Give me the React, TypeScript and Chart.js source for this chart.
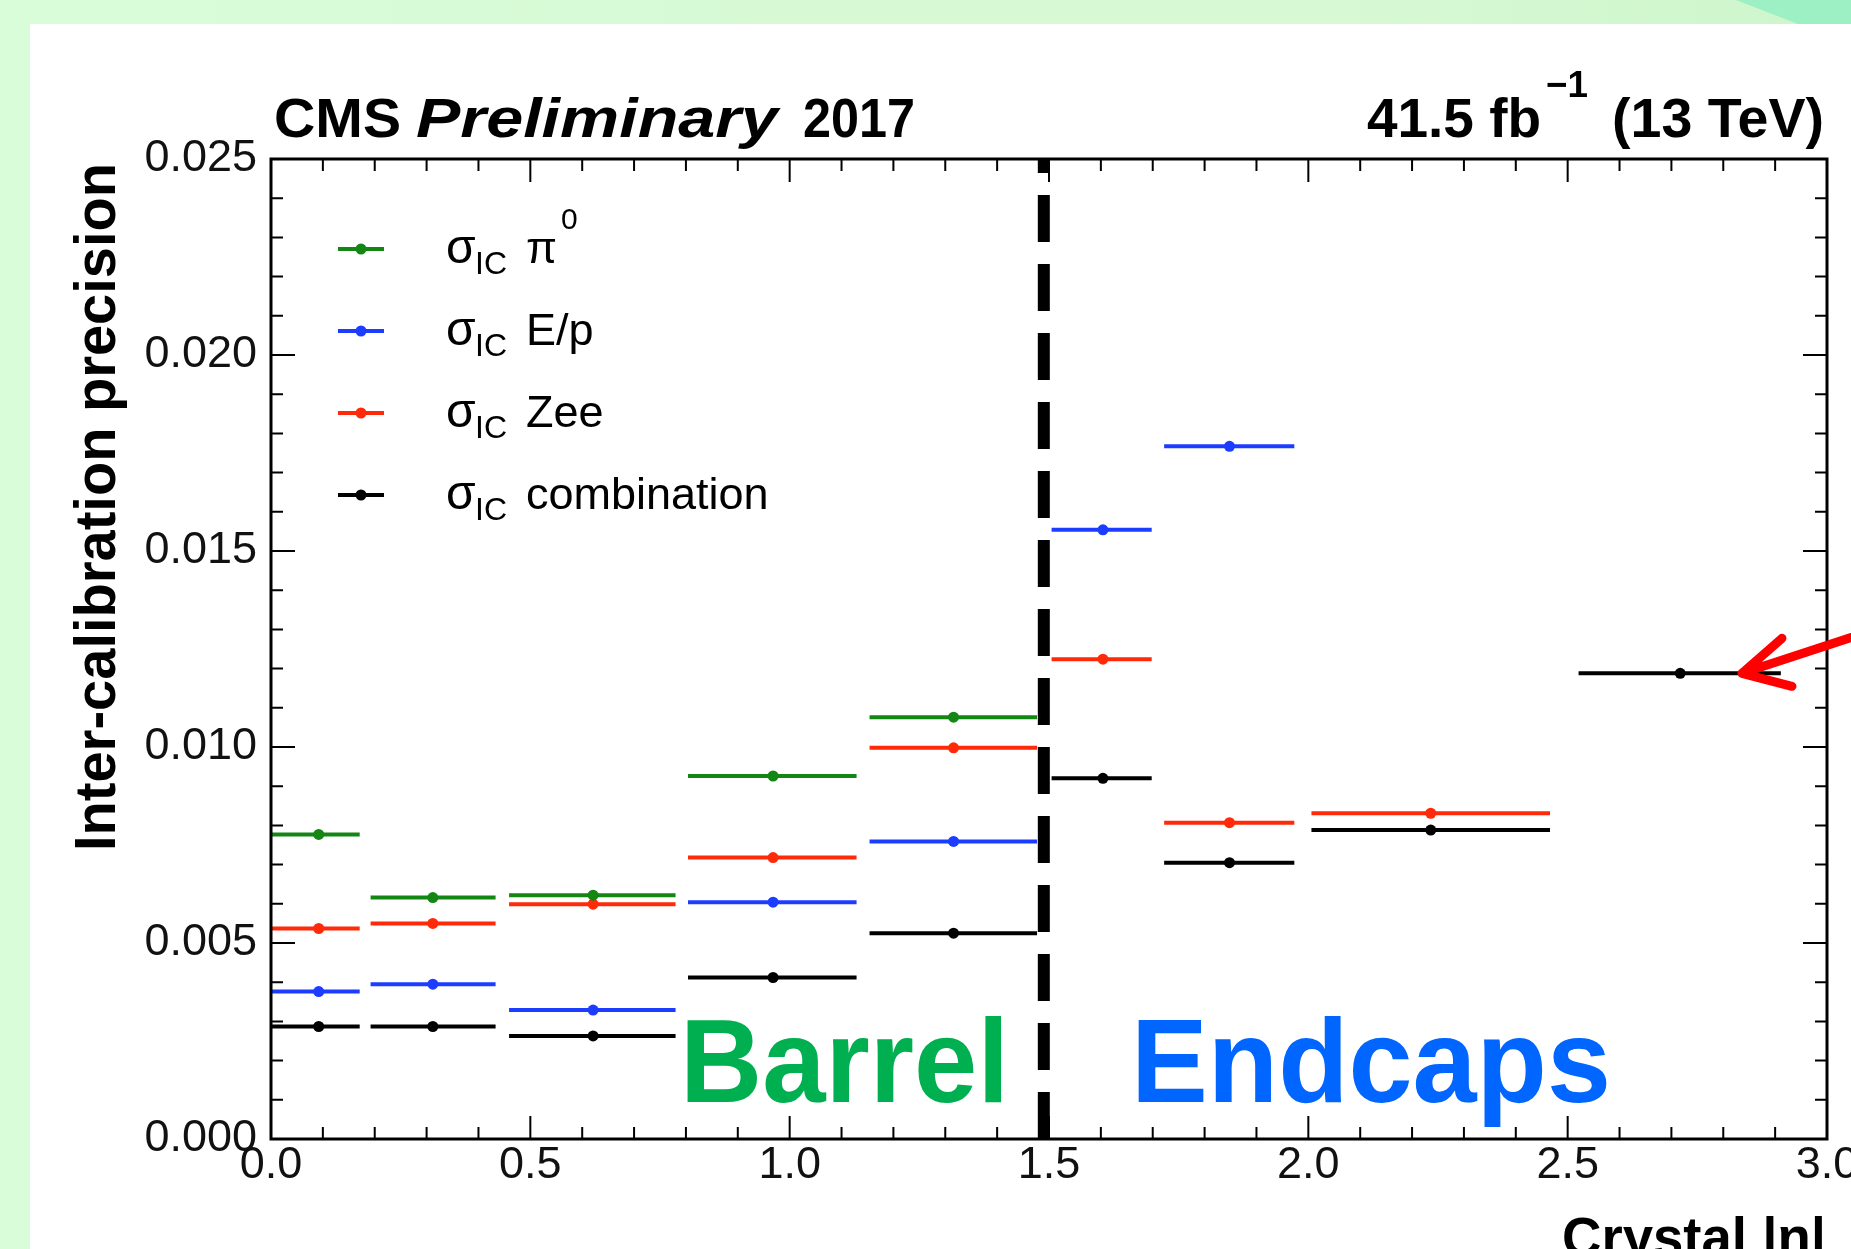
import React, { useEffect, useRef } from 'react';
import { Chart, registerables } from 'chart.js';

Chart.register(...registerables);

const CANVAS_W = 1851;
const CANVAS_H = 1249;

// Crystal |eta| bins (point position and horizontal extent)
const etaCenter = [0.092, 0.312, 0.621, 0.968, 1.316, 1.604, 1.848, 2.236, 2.717];
const etaLow = [0.0, 0.192, 0.459, 0.804, 1.154, 1.505, 1.722, 2.006, 2.521];
const etaHigh = [0.171, 0.433, 0.78, 1.129, 1.477, 1.698, 1.973, 2.466, 2.911];

// Inter-calibration precision per method
const sigmaPi0 = [0.00777, 0.00616, 0.00622, 0.00926, 0.01076, null, null, null, null];
const sigmaEp = [0.00376, 0.00395, 0.00329, 0.00604, 0.00759, 0.01554, 0.01767, null, null];
const sigmaZee = [0.00537, 0.0055, 0.00599, 0.00718, 0.00998, 0.01224, 0.00807, 0.00831, null];
const sigmaComb = [0.00287, 0.00287, 0.00263, 0.00412, 0.00525, 0.0092, 0.00705, 0.00788, 0.01188];

const seriesNames = ['π', 'E/p', 'Zee', 'combination'];
const seriesColors = ['#138613', '#1c3cff', '#ff2a0a', '#000000'];

const xTicks = [0, 0.5, 1.0, 1.5, 2.0, 2.5, 3.0];
const yTicks = [0, 0.005, 0.01, 0.015, 0.02, 0.025];
const xMinorStep = 0.1;
const yMinorStep = 0.001;
const barrelEndcapEta = 1.49;

const FONT = '"Liberation Sans", Arial, Helvetica, sans-serif';

function buildBars(values: (number | null)[]) {
  const pts: any[] = [];
  values.forEach((v, i) => {
    if (v == null) return;
    pts.push({ x: etaLow[i], y: v }, { x: etaHigh[i], y: v }, { x: etaHigh[i], y: null });
  });
  return pts;
}
function buildPoints(values: (number | null)[]) {
  const pts: any[] = [];
  values.forEach((v, i) => {
    if (v == null) return;
    pts.push({ x: etaCenter[i], y: v });
  });
  return pts;
}

function drawFit(ctx: CanvasRenderingContext2D, text: string, x: number, y: number, width: number, font: string, color: string) {
  ctx.save();
  ctx.font = font;
  ctx.textAlign = 'left';
  ctx.textBaseline = 'alphabetic';
  const w = ctx.measureText(text).width;
  ctx.translate(x, y);
  ctx.scale(width / w, 1);
  ctx.fillStyle = color;
  ctx.fillText(text, 0, 0);
  ctx.restore();
}

const decor = {
  id: 'cmsDecor',
  afterDraw(chart: any) {
    const { ctx, chartArea: a, scales } = chart;
    const xs = scales.x;
    const ys = scales.y;
    ctx.save();
    // inward ticks on all four sides
    ctx.strokeStyle = '#000';
    ctx.lineWidth = 2;
    ctx.beginPath();
    const xMin = xTicks[0], xMax = xTicks[xTicks.length - 1];
    const nx = Math.round((xMax - xMin) / xMinorStep);
    for (let i = 0; i <= nx; i++) {
      const px = xs.getPixelForValue(xMin + i * xMinorStep);
      const len = i % 5 === 0 ? 23 : 12;
      ctx.moveTo(px, a.bottom);
      ctx.lineTo(px, a.bottom - len);
      ctx.moveTo(px, a.top);
      ctx.lineTo(px, a.top + len);
    }
    const yMin = yTicks[0], yMax = yTicks[yTicks.length - 1];
    const ny = Math.round((yMax - yMin) / yMinorStep);
    for (let i = 0; i <= ny; i++) {
      const py = ys.getPixelForValue(yMin + i * yMinorStep);
      const len = i % 5 === 0 ? 24 : 12;
      ctx.moveTo(a.left, py);
      ctx.lineTo(a.left + len, py);
      ctx.moveTo(a.right, py);
      ctx.lineTo(a.right - len, py);
    }
    ctx.stroke();
    ctx.lineWidth = 3;
    ctx.strokeRect(a.left, a.top, a.right - a.left, a.bottom - a.top);

    // header
    drawFit(ctx, 'CMS', 274, 137, 127, `bold 55px ${FONT}`, '#000');
    drawFit(ctx, 'Preliminary', 416, 137, 362, `italic bold 55px ${FONT}`, '#000');
    drawFit(ctx, '2017', 803, 137, 112, `bold 55px ${FONT}`, '#000');
    drawFit(ctx, '41.5 fb', 1367, 137, 174, `bold 55px ${FONT}`, '#000');
    drawFit(ctx, '\u22121', 1546, 97, 42, `bold 37px ${FONT}`, '#000');
    drawFit(ctx, '(13 TeV)', 1612, 137, 212, `bold 55px ${FONT}`, '#000');

    // axis titles
    drawFit(ctx, 'Crystal |η|', 1562, 1256, 264, `bold 55px ${FONT}`, '#000');
    ctx.save();
    ctx.translate(115, 851);
    ctx.rotate(-Math.PI / 2);
    drawFit(ctx, 'Inter-calibration precision', 0, 0, 688, `bold 58px ${FONT}`, '#000');
    ctx.restore();

    // region labels
    drawFit(ctx, 'Barrel', 680, 1102, 329, `bold 119px ${FONT}`, '#00b050');
    drawFit(ctx, 'Endcaps', 1131, 1102, 480, `bold 119px ${FONT}`, '#0066ff');

    // legend
    const legendY = [249, 331, 413, 495];
    seriesNames.forEach((name, i) => {
      const y = legendY[i];
      const c = seriesColors[i];
      ctx.strokeStyle = c;
      ctx.lineWidth = 4;
      ctx.beginPath();
      ctx.moveTo(338, y);
      ctx.lineTo(384, y);
      ctx.stroke();
      ctx.fillStyle = c;
      ctx.beginPath();
      ctx.arc(361, y, 5.5, 0, Math.PI * 2);
      ctx.fill();
      ctx.fillStyle = '#000';
      ctx.textAlign = 'left';
      ctx.textBaseline = 'alphabetic';
      ctx.font = `48px ${FONT}`;
      ctx.fillText('σ', 446, y + 14);
      ctx.font = `32px ${FONT}`;
      ctx.fillText('IC', 475, y + 25);
      ctx.font = `45px ${FONT}`;
      ctx.fillText(name, 526, y + 14);
      if (i === 0) {
        const w = ctx.measureText(name).width;
        ctx.font = `30px ${FONT}`;
        ctx.fillText('0', 526 + w + 4, y - 20);
      }
    });

    // arrow pointing to the last combination bin
    const last = sigmaComb.length - 1;
    const tipX = xs.getPixelForValue(2.836);
    const tipY = ys.getPixelForValue(sigmaComb[last] as number);
    ctx.strokeStyle = '#ff0000';
    ctx.lineWidth = 9;
    ctx.lineCap = 'round';
    ctx.lineJoin = 'round';
    ctx.beginPath();
    ctx.moveTo(tipX + 140, tipY - 46);
    ctx.lineTo(tipX, tipY);
    ctx.moveTo(tipX + 40, tipY - 35);
    ctx.lineTo(tipX, tipY);
    ctx.lineTo(tipX + 50, tipY + 13);
    ctx.stroke();
    ctx.restore();
  },
};

export default function App() {
  const ref = useRef<HTMLCanvasElement>(null);
  useEffect(() => {
    if (!ref.current) return;
    const allSeries = [sigmaPi0, sigmaEp, sigmaZee, sigmaComb];
    const datasets: any[] = [];
    allSeries.forEach((vals, i) => {
      datasets.push({
        label: seriesNames[i] + ' points',
        data: buildPoints(vals),
        showLine: false,
        pointRadius: 5.5,
        pointBorderWidth: 0,
        pointBackgroundColor: seriesColors[i],
        borderColor: seriesColors[i],
        order: 1,
      });
      datasets.push({
        label: seriesNames[i] + ' bins',
        data: buildBars(vals),
        showLine: true,
        spanGaps: false,
        borderColor: seriesColors[i],
        borderWidth: 4,
        pointRadius: 0,
        order: 5,
      });
    });
    datasets.push({
      label: 'boundary',
      data: [
        { x: barrelEndcapEta, y: yTicks[0] },
        { x: barrelEndcapEta, y: yTicks[yTicks.length - 1] },
      ],
      showLine: true,
      borderColor: '#000',
      borderWidth: 12,
      borderDash: [47, 22],
      borderCapStyle: 'butt',
      pointRadius: 0,
      order: 10,
    });

    const chart = new Chart(ref.current, {
      type: 'line',
      data: { datasets },
      plugins: [decor],
      options: {
        responsive: false,
        animation: false,
        devicePixelRatio: 1,
        parsing: true,
        layout: { padding: { top: 159, right: 24, bottom: 0, left: 0 } },
        plugins: { legend: { display: false }, tooltip: { enabled: false } },
        elements: { line: { tension: 0 } },
        scales: {
          x: {
            type: 'linear',
            min: xTicks[0],
            max: xTicks[xTicks.length - 1],
            grid: { display: false, drawTicks: false },
            border: { display: false },
            ticks: {
              stepSize: xTicks[1] - xTicks[0],
              autoSkip: false,
              maxRotation: 0,
              minRotation: 0,
              padding: 0,
              color: '#111',
              font: { family: FONT, size: 45 },
              callback: (v: any) => Number(v).toFixed(1),
            },
            afterFit: (s: any) => {
              s.height = 110;
              s.paddingLeft = 0;
              s.paddingRight = 0;
            },
          },
          y: {
            type: 'linear',
            min: yTicks[0],
            max: yTicks[yTicks.length - 1],
            grid: { display: false, drawTicks: false },
            border: { display: false },
            ticks: {
              stepSize: yTicks[1] - yTicks[0],
              padding: 14,
              color: '#111',
              font: { family: FONT, size: 45 },
              callback: (v: any) => Number(v).toFixed(3),
            },
            afterFit: (s: any) => {
              s.width = 271;
              s.paddingTop = 0;
              s.paddingBottom = 0;
            },
          },
        },
      } as any,
    });
    return () => chart.destroy();
  }, []);

  return (
    <div
      style={{
        position: 'absolute',
        left: 0,
        top: 0,
        width: CANVAS_W,
        height: CANVAS_H,
        overflow: 'hidden',
        background: '#d9fcd9',
      }}
    >
      <div
        style={{
          position: 'absolute',
          left: 0,
          top: 0,
          width: CANVAS_W,
          height: 24,
          background: 'linear-gradient(90deg, #d9fcd9 0%, #d6f9d3 75%, #cdf5cb 100%)',
        }}
      />
      <div
        style={{
          position: 'absolute',
          left: 0,
          top: 0,
          width: CANVAS_W,
          height: 24,
          background: '#9cf0c4',
          clipPath: 'polygon(1736px 0, 1851px 0, 1851px 24px, 1798px 24px)',
        }}
      />
      <div
        style={{
          position: 'absolute',
          left: 30,
          top: 24,
          width: CANVAS_W - 30,
          height: CANVAS_H - 24,
          background: '#ffffff',
        }}
      />
      <canvas
        ref={ref}
        width={CANVAS_W}
        height={CANVAS_H}
        style={{ position: 'absolute', left: 0, top: 0, width: CANVAS_W, height: CANVAS_H }}
      />
    </div>
  );
}
